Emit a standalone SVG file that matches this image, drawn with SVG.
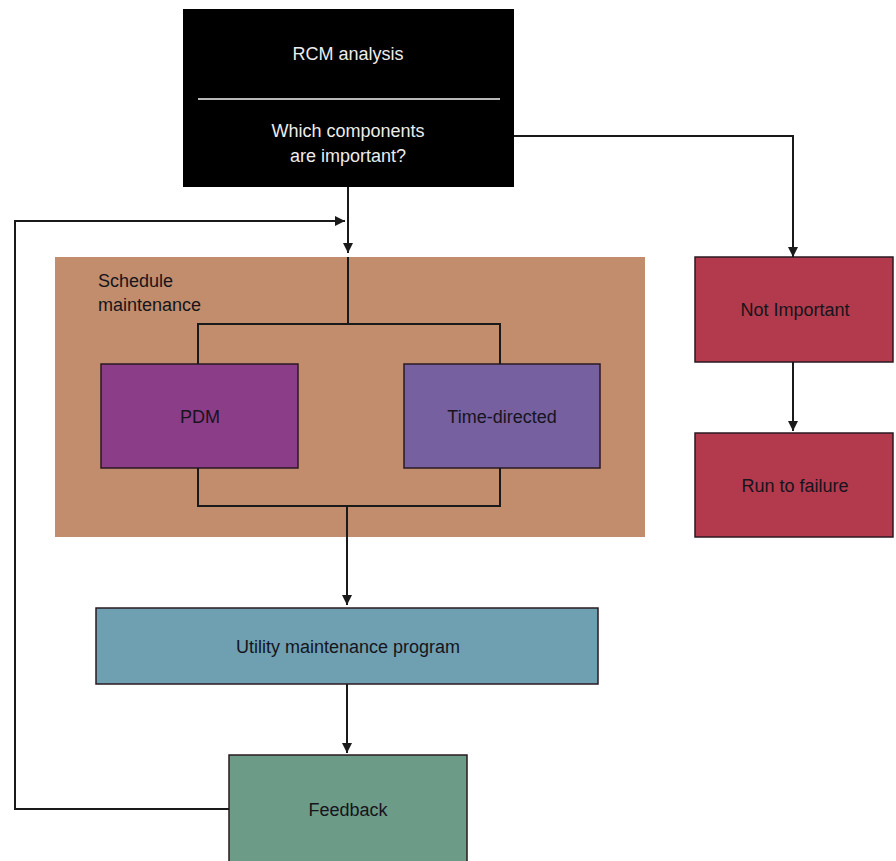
<svg xmlns="http://www.w3.org/2000/svg" width="896" height="861" viewBox="0 0 896 861">
<defs>
<style>
.lbl{font-family:"Liberation Sans",Arial,sans-serif;font-size:18px;fill:#16141c;text-anchor:middle;dominant-baseline:central}
.wh{fill:#ececec}
.ln{fill:none;stroke:#1a1a1a;stroke-width:2}
.bx{stroke:#2a1a22;stroke-width:1.5}
</style>
<marker id="ah" viewBox="0 0 10 10" refX="10" refY="5" markerWidth="10" markerHeight="10" orient="auto" markerUnits="userSpaceOnUse">
<path d="M0,0 L10,5 L0,10 z" fill="#1a1a1a"/>
</marker>
</defs>
<rect width="896" height="861" fill="#ffffff"/>

<g id="rcm">
<rect x="183" y="9" width="331" height="178" fill="#000000"/>
<line x1="198" y1="99" x2="500" y2="99" stroke="#b8b8b8" stroke-width="2"/>
<text class="lbl wh" x="348" y="54">RCM analysis</text>
<text class="lbl wh" x="348" y="131">Which components</text>
<text class="lbl wh" x="348" y="156">are important?</text>
</g>

<g id="schedule">
<rect x="55" y="257" width="590" height="280" fill="#c28d6c"/>
<text class="lbl" x="98" y="281" style="text-anchor:start">Schedule</text>
<text class="lbl" x="98" y="305" style="text-anchor:start">maintenance</text>
</g>

<g id="pdm">
<rect class="bx" x="101" y="364" width="197" height="104" fill="#8b3d88"/>
<text class="lbl" x="200" y="417">PDM</text>
</g>

<g id="timedirected">
<rect class="bx" x="404" y="364" width="196" height="104" fill="#7660a0"/>
<text class="lbl" x="502" y="417">Time-directed</text>
</g>

<g id="notimportant">
<rect class="bx" x="695" y="257" width="198" height="105" fill="#b23a4c"/>
<text class="lbl" x="795" y="310">Not Important</text>
</g>

<g id="runtofailure">
<rect class="bx" x="695" y="433" width="198" height="104" fill="#b23a4c"/>
<text class="lbl" x="795" y="486">Run to failure</text>
</g>

<g id="utility">
<rect class="bx" x="96" y="608" width="502" height="76" fill="#6ea0b2"/>
<text class="lbl" x="348" y="647">Utility maintenance program</text>
</g>

<g id="feedback">
<rect class="bx" x="229" y="755" width="238" height="110" fill="#6c9b87"/>
<text class="lbl" x="348" y="810">Feedback</text>
</g>

<g id="connectors">
<line class="ln" x1="348" y1="187" x2="348" y2="253" marker-end="url(#ah)"/>
<polyline class="ln" points="514,136 793,136 793,257" marker-end="url(#ah)"/>
<line class="ln" x1="793" y1="362" x2="793" y2="431" marker-end="url(#ah)"/>
<line class="ln" x1="348" y1="257" x2="348" y2="324"/>
<polyline class="ln" points="198,364 198,324 500,324 500,364"/>
<polyline class="ln" points="198,468 198,506 500,506 500,468"/>
<line class="ln" x1="347" y1="506" x2="347" y2="605" marker-end="url(#ah)"/>
<line class="ln" x1="347" y1="684" x2="347" y2="753" marker-end="url(#ah)"/>
<polyline class="ln" points="229,809 15,809 15,221 345,221" marker-end="url(#ah)"/>
</g>
</svg>
